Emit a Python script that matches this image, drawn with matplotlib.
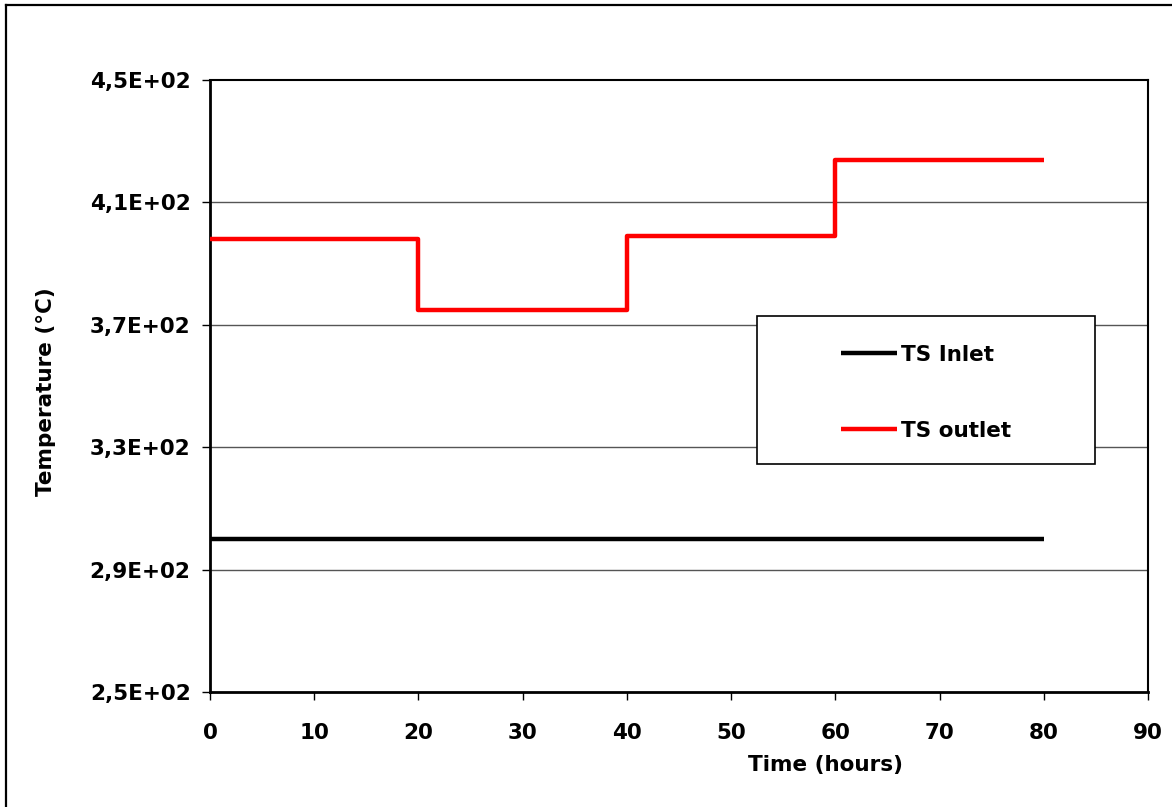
import matplotlib
matplotlib.use("Agg")
import matplotlib.pyplot as plt
from matplotlib.patches import Rectangle
from matplotlib.lines import Line2D
from matplotlib.ticker import FuncFormatter

plt.rcParams['font.family'] = ['DejaVu Sans']
plt.rcParams['font.weight'] = 'bold'

# Data
inlet_time = [0, 80]
inlet_temp = [300, 300]
outlet_time = [0, 20, 20, 40, 40, 60, 60, 80]
outlet_temp = [398, 398, 375, 375, 399, 399, 424, 424]
series_labels = ["TS Inlet", "TS outlet"]
xticks = [0, 10, 20, 30, 40, 50, 60, 70, 80, 90]
yticks = [250, 290, 330, 370, 410, 450]

FS = 15.5
W, H, DPI = 1172, 807, 100
fig = plt.figure(figsize=(W / DPI, H / DPI), dpi=DPI)
ax = fig.add_axes([210 / W, 1 - 692 / H, (1148 - 210) / W, (692 - 80) / H])

ax.set_xlim(0, 90)
ax.set_ylim(250, 450)
ax.set_xticks(xticks)
ax.set_yticks(yticks)
ax.yaxis.set_major_formatter(FuncFormatter(lambda v, p: f"{v:.1E}".replace('.', ',')))

for y in yticks[1:-1]:
    ax.axhline(y, color='#555555', lw=1.0, zorder=1)

l1, = ax.plot(inlet_time, inlet_temp, color='black', lw=3.2, solid_capstyle='butt', zorder=3)
l2, = ax.plot(outlet_time, outlet_temp, color='#ff0000', lw=3.2, solid_capstyle='butt', zorder=3)

for s in ax.spines.values():
    s.set_linewidth(1.5)
    s.set_color('black')
ax.spines['left'].set_linewidth(2)
ax.spines['bottom'].set_linewidth(2)

ax.tick_params(axis='both', direction='out', length=6, width=1, labelsize=FS)
ax.tick_params(axis='y', pad=8)
ax.tick_params(axis='x', pad=16)
for lab in ax.get_xticklabels() + ax.get_yticklabels():
    lab.set_fontweight('bold')

ax.set_xlabel("Time (hours)", fontsize=FS, fontweight='bold', va='center')
ax.xaxis.set_label_coords(0.656, -(765 - 692) / 612)
ax.set_ylabel("Temperature (°C)", fontsize=FS, fontweight='bold', va='center')
ax.yaxis.set_label_coords((46 - 210) / 938, (692 - 392) / 612)

# Legend frame
lx0 = (757 - 210) / 938
lx1 = (1095 - 210) / 938
ly0 = (692 - 464) / 612
ly1 = (692 - 316) / 612
ax.add_patch(Rectangle((lx0, ly0), lx1 - lx0, ly1 - ly0, transform=ax.transAxes,
                       facecolor='white', edgecolor='black', lw=1.2, zorder=4))
shift = 3 / 612
leg = ax.legend([l1, l2], series_labels, loc='center',
                bbox_to_anchor=(lx0, ly0 - shift, lx1 - lx0, ly1 - ly0),
                frameon=False, handlelength=2.6, handletextpad=0.2,
                labelspacing=2.6, prop={'weight': 'bold', 'size': FS})
leg.set_zorder(5)

# Outer frame: only top and left edges visible
fig.add_artist(Line2D([6 / W, 1], [1 - 5 / H, 1 - 5 / H], transform=fig.transFigure,
                      color='black', lw=1.6))
fig.add_artist(Line2D([6 / W, 6 / W], [0, 1 - 5 / H], transform=fig.transFigure,
                      color='black', lw=1.6))

fig.savefig("out.png", dpi=DPI)
